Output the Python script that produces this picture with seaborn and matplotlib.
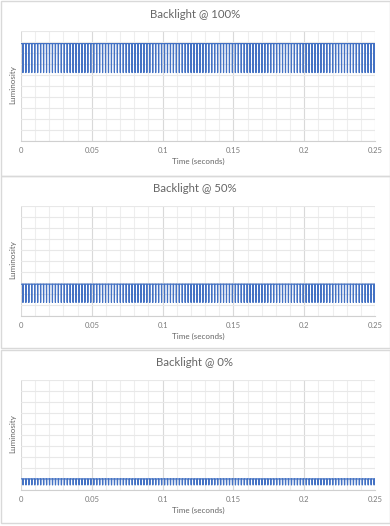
import numpy as np
import pandas as pd
import seaborn as sns
import matplotlib.pyplot as plt
from matplotlib.patches import Rectangle

titles = ['Backlight @ 100%', 'Backlight @ 50%', 'Backlight @ 0%']
time_end = 0.25
cycles = 120

# sample positions inside one cycle (fraction of the period)
cycle_phase = [0.0, 0.30, 0.60, 0.66, 0.72, 0.78]

# luminosity within one cycle for each backlight level
cycle_100 = [8.85, 8.85, 8.85, 6.2, 8.85, 8.85]
cycle_50 = [2.86, 2.86, 2.86, 1.19, 2.86, 2.86]
cycle_0 = [0.97, 0.97, 0.97, 0.42, 0.42, 0.97]
levels = [cycle_100, cycle_50, cycle_0]

x_ticks = [0, 0.05, 0.1, 0.15, 0.2, 0.25]
x_tick_labels = ['0', '0.05', '0.1', '0.15', '0.2', '0.25']


def build_trace(cycle_values):
    period = time_end / cycles
    rows = []
    for k in range(cycles):
        for ph, v in zip(cycle_phase, cycle_values):
            rows.append(((k + ph) * period, v))
    rows.append((time_end, cycle_values[0]))
    return pd.DataFrame(rows, columns=['Time', 'Luminosity'])


sns.set_style('white')
plt.rcParams['font.family'] = ['Lato', 'DejaVu Sans']

W, H = 390, 526
fig = plt.figure(figsize=(W / 100, H / 100), dpi=100)

panel_offsets = [0, 175, 349]
panel_heights = [176, 173, 174]
text_col = '#666666'

for i, off in enumerate(panel_offsets):
    # chart frame
    fig.patches.append(Rectangle((0.5 / W, 1 - (off + panel_heights[i]) / H),
                                 389 / W, (panel_heights[i] - 1) / H,
                                 transform=fig.transFigure, fill=False,
                                 edgecolor='#d9d9d9', lw=1))

    top, bottom = 31 + off, 140.5 + off
    ax = fig.add_axes([21 / W, 1 - bottom / H, 354 / W, (bottom - top) / H])

    df = build_trace(levels[i])
    sns.lineplot(data=df, x='Time', y='Luminosity', ax=ax, color='#4472C4',
                 lw=0.85, estimator=None, sort=False)

    ax.set_xlim(0, time_end)
    ax.set_ylim(0, 10)
    ax.set_xticks(x_ticks)
    ax.set_xticklabels(x_tick_labels)
    ax.set_xticks(np.arange(0, 0.2501, 0.01), minor=True)
    ax.set_yticks(range(0, 11))
    ax.set_yticklabels([])
    ax.grid(True, which='major', axis='x', color='#d9d9d9', lw=0.8)
    ax.grid(True, which='minor', axis='x', color='#eeeeee', lw=0.8)
    ax.grid(True, which='major', axis='y', color='#e8e8e8', lw=0.8)
    ax.set_axisbelow(True)
    ax.tick_params(axis='both', which='both', length=0)
    ax.tick_params(axis='x', labelsize=5.5, labelcolor='#7a7a7a', pad=5)
    for s in ['top', 'right', 'left']:
        ax.spines[s].set_visible(False)
    ax.spines['bottom'].set_color('#d0d0d0')
    ax.spines['bottom'].set_linewidth(0.8)
    ax.set_xlabel('')
    ax.set_ylabel('')

    fig.text(195 / W, 1 - (14 + off) / H, titles[i], ha='center', va='center',
             fontsize=8.2, color=text_col)
    fig.text(198 / W, 1 - (161 + off) / H, 'Time (seconds)', ha='center',
             va='center', fontsize=5.8, color=text_col)
    fig.text(13 / W, 1 - (85 + off) / H, 'Luminosity', ha='center',
             va='center', rotation=90, fontsize=5.8, color=text_col)

fig.savefig('out.png', dpi=100, facecolor='white')
